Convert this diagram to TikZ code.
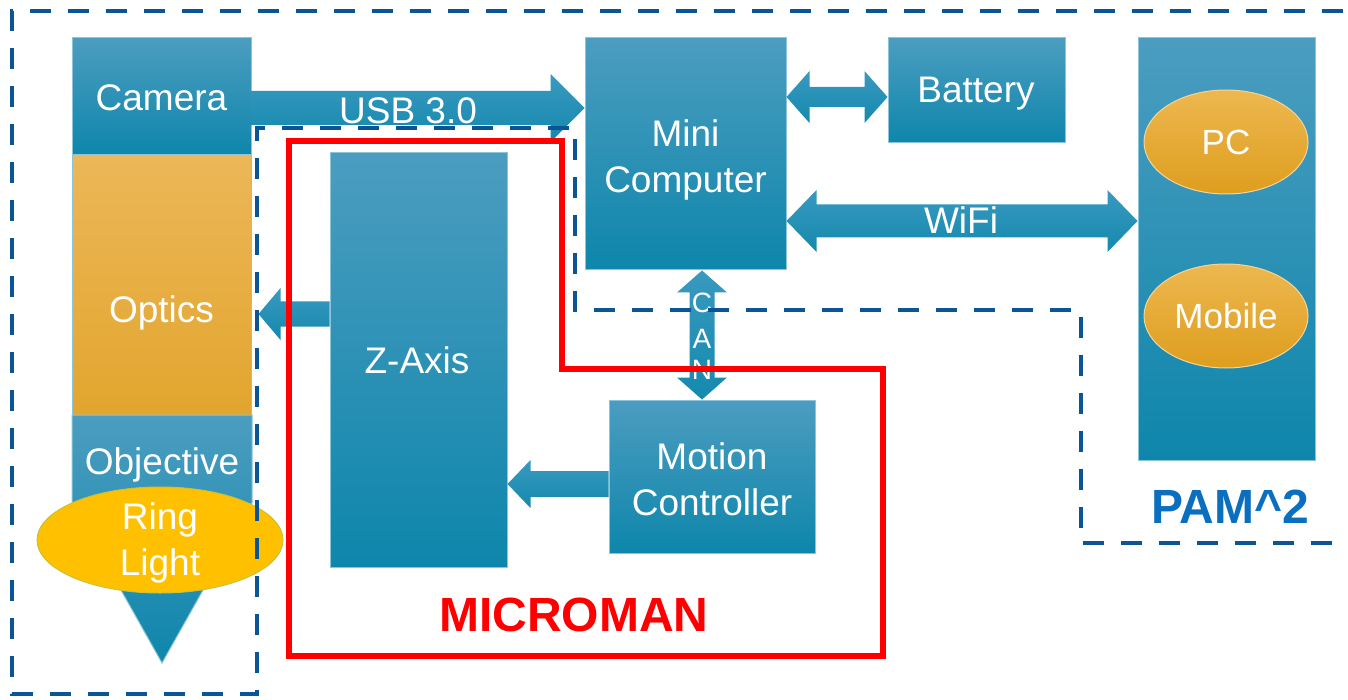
\documentclass[tikz,border=0pt]{standalone}
\usepackage{fontspec}
\setmainfont{Liberation Sans}
\usetikzlibrary{calc,shapes.geometric}
\definecolor{bluetop}{HTML}{4B9DC0}
\definecolor{bluebot}{HTML}{0E86AB}
\definecolor{boxedge}{HTML}{8CC5DA}
\definecolor{orangetop}{HTML}{ECB758}
\definecolor{orangebot}{HTML}{E2A52E}
\definecolor{elltop}{HTML}{EDB850}
\definecolor{ellbot}{HTML}{DE9E1E}
\definecolor{ringfill}{HTML}{FFC000}
\definecolor{ringedge}{HTML}{C9C23A}
\definecolor{dashblue}{HTML}{0B5496}
\definecolor{pamblue}{HTML}{0B6FC0}
\definecolor{arrowtop}{HTML}{3A99BF}
\definecolor{arrowbot}{HTML}{1489AE}
\newcommand\boxfont{\fontsize{37}{46}\selectfont}
\newcommand\ellfont{\fontsize{35}{42}\selectfont}
\newcommand\canfont{\fontsize{28}{30}\selectfont}
\newcommand\bigfont{\fontsize{48}{52}\selectfont\bfseries}
% single block arrow: from, to, half shaft, half head, head length
\newcommand\onearrow[5]{%
  \coordinate (hb) at ($(#2)!#5!(#1)$);
  \shade[arrowshade] ($(#1)!#3!90:(#2)$) -- ($(hb)!#3!90:(#2)$) -- ($(hb)!#4!90:(#2)$) -- (#2)
    -- ($(hb)!#4!-90:(#2)$) -- ($(hb)!#3!-90:(#2)$) -- ($(#1)!#3!-90:(#2)$) -- cycle;}
% double block arrow
\newcommand\twoarrow[5]{%
  \coordinate (ha) at ($(#1)!#5!(#2)$);
  \coordinate (hb) at ($(#2)!#5!(#1)$);
  \shade[arrowshade] (#1) -- ($(ha)!#4!90:(#2)$) -- ($(ha)!#3!90:(#2)$) -- ($(hb)!#3!90:(#2)$)
    -- ($(hb)!#4!90:(#2)$) -- (#2) -- ($(hb)!#4!-90:(#2)$) -- ($(hb)!#3!-90:(#2)$)
    -- ($(ha)!#3!-90:(#2)$) -- ($(ha)!#4!-90:(#2)$) -- cycle;}
\begin{document}
\begin{tikzpicture}[x=1pt,y=-1pt,
  bbox/.style={rectangle, draw=boxedge, line width=1pt, top color=bluetop, bottom color=bluebot,
    text=white, font=\boxfont, align=center, inner sep=0pt},
  obox/.style={rectangle, draw=boxedge, line width=1pt, top color=orangetop, bottom color=orangebot, inner sep=0pt},
  oell/.style={ellipse, draw=orangetop!60!white, line width=1pt, top color=elltop, bottom color=ellbot, inner sep=0pt},
  lbl/.style={text=white, font=\boxfont, align=center, inner sep=0pt},
  elbl/.style={text=white, font=\ellfont, align=center, inner sep=0pt},
  canlbl/.style={text=white, font=\canfont, inner sep=0pt},
  arrowshade/.style={top color=arrowtop, bottom color=arrowbot, draw=none},
  dashline/.style={draw=dashblue, line width=4pt, dash pattern=on 21pt off 17pt, line join=miter},
  redline/.style={draw=red, line width=6pt, line join=miter}
]
\useasboundingbox (0,0) rectangle (1348,700);

% boxes
\node[bbox, minimum width=179pt, minimum height=117pt] (camera) at (161.5,96.5) {};
\node[obox, minimum width=179pt, minimum height=260pt] (optics) at (161.5,285) {};
\shade[top color=bluetop, bottom color=bluebot, draw=boxedge, line width=1pt]
  (72,415) -- (252,415) -- (252,503) -- (162,663) -- (72,503) -- cycle;
\node[bbox, minimum width=177pt, minimum height=414pt] (zaxis) at (418.5,360) {};
\node[bbox, minimum width=201pt, minimum height=232pt] (minicomp) at (685.5,154) {};
\node[bbox, minimum width=177pt, minimum height=105pt] (battery) at (976.5,90.5) {};
\node[bbox, minimum width=177pt, minimum height=422pt] (pam) at (1226.5,249) {};
\node[bbox, minimum width=206pt, minimum height=153pt] (motion) at (712,476.5) {};
\node[oell, minimum width=164pt, minimum height=104pt] (pc) at (1226,142) {};
\node[oell, minimum width=164pt, minimum height=104pt] (mobile) at (1226,316) {};
\node[elbl] (pclbl) at (pc.center) {PC};
\node[elbl] (mobilelbl) at (mobile.center) {Mobile};

% connector helper coordinates
\coordinate (usbY) at (0,108);
\coordinate (batY) at (0,97);
\coordinate (wifiY) at (0,221);
\coordinate (canX) at (702,0);
\coordinate (mzY) at (0,484);
\coordinate (zoY) at (0,314);
\coordinate (usbA) at (camera.east |- usbY);
\coordinate (usbB) at (minicomp.west |- usbY);
\coordinate (batA) at (minicomp.east |- batY);
\coordinate (batB) at (battery.west |- batY);
\coordinate (wifiA) at (minicomp.east |- wifiY);
\coordinate (wifiB) at (pam.west |- wifiY);
\coordinate (canA) at (minicomp.south -| canX);
\coordinate (canB) at (motion.north -| canX);
\coordinate (mzA) at (motion.west |- mzY);
\coordinate (mzB) at (zaxis.east |- mzY);
\coordinate (zoA) at (zaxis.west |- zoY);
\coordinate (zoB) at ($(optics.east |- zoY)+(7,0)$);

% arrows
\onearrow{usbA}{usbB}{17pt}{34pt}{34pt}
\twoarrow{batA}{batB}{10pt}{26pt}{23pt}
\twoarrow{wifiA}{wifiB}{16.5pt}{31pt}{30pt}
\twoarrow{canA}{canB}{12.5pt}{25pt}{22pt}
\onearrow{mzA}{mzB}{13pt}{24pt}{23pt}
\onearrow{zoA}{zoB}{12.5pt}{26pt}{22pt}

% ring light
\node[ellipse, fill=ringfill, draw=ringedge, line width=1pt, minimum width=246pt, minimum height=106pt, inner sep=0pt] (ring) at (160,540) {};

% labels
\node[lbl] (cameralbl) at (161.5,98) {Camera};
\node[lbl] (opticslbl) at (161.5,313) {Optics};
\node[lbl] (objlbl) at (162,465) {Objective};
\node[lbl] (zaxislbl) at (417,360) {Z-Axis};
\node[lbl] (minilbl) at (685.5,160) {Mini\\Computer};
\node[lbl] (batterylbl) at (976,94) {Battery};
\node[lbl] (motionlbl) at (712,479) {Motion\\Controller};
\node[lbl] (ringlbl) at (160,543) {Ring\\Light};
\node[lbl] (usblbl) at (408,111) {USB 3.0};
\node[lbl] (wifilbl) at (961,220) {WiFi};
\node[canlbl] (canC) at (702,303) {C};
\node[canlbl] (canAl) at (702,339) {A};
\node[canlbl] (canN) at (702,370) {N};

% frames
\draw[dashline] (1343,11) -- (12,11) -- (12,694) -- (257,694) -- (257,128) -- (575,128)
  -- (575,310) -- (1081,310) -- (1081,543) -- (1340,543);
\draw[redline] (289,141) -- (562,141) -- (562,369) -- (883,369) -- (883,656) -- (289,656) -- cycle;

\node[text=red, font=\bigfont, inner sep=0pt] (micro) at (574,615) {MICROMAN};
\node[text=pamblue, font=\bigfont, inner sep=0pt] (pamlbl) at (1230,507) {PAM\^{}2};
\end{tikzpicture}
\end{document}
